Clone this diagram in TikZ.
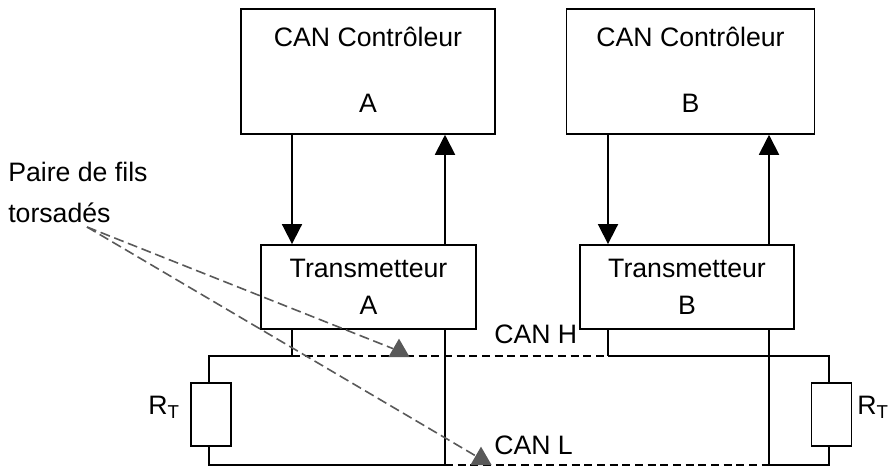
\documentclass[tikz,border=0pt]{standalone}
\usepackage{fontspec}
\setmainfont{Liberation Sans}
\usetikzlibrary{arrows.meta,shapes.geometric}

\definecolor{pointer}{HTML}{595959}
\tikzset{
    wire/.style={line width=1.4pt},
    signal/.style={wire,-{Triangle[width=15pt,length=15pt]}},
    bus/.style={wire,dash pattern=on 6pt off 3.5pt},
    hint/.style={line width=1.2pt,pointer,dash pattern=on 7.5pt off 3.5pt},
    tip/.style={regular polygon,regular polygon sides=3,fill=pointer,minimum size=18.5pt,inner sep=0pt},
    block/.style={draw,line width=1.4pt,align=center,inner sep=0pt,font=\fontsize{20}{24}\selectfont},
    resistor/.style={draw,line width=1.4pt,fill=white,minimum width=30pt,minimum height=47.5pt,inner sep=0pt},
    caption/.style={inner sep=0pt,font=\fontsize{20}{24}\selectfont}
}

\begin{document}
\begin{tikzpicture}[x=0.75pt,y=-0.75pt]
    \useasboundingbox (0,0) rectangle (888,467);

    % Controllers
    \node[block,minimum width=190pt,minimum height=93.5pt] (ctrlA) at (368,71.5) {\raisebox{2.5pt}{CAN Contrôleur}\\[25pt]\raisebox{2.5pt}{A}};
    \node[block,minimum width=186pt,minimum height=93.5pt] (ctrlB) at (690.5,71.5) {\raisebox{2.5pt}{CAN Contrôleur}\\[25pt]\raisebox{2.5pt}{B}};

    % Transceivers
    \node[block,minimum width=161pt,minimum height=63pt] (txA) at (368.5,287) {\raisebox{-2.2pt}{Transmetteur}\\[4pt]\raisebox{-2.2pt}{A}};
    \node[block,minimum width=161pt,minimum height=63pt] (txB) at (687,287) {\raisebox{-2.2pt}{Transmetteur}\\[4pt]\raisebox{-2.2pt}{B}};

    % Wire positions
    \coordinate (dnA) at (292,0);
    \coordinate (upA) at (445,0);
    \coordinate (dnB) at (608,0);
    \coordinate (upB) at (769,0);
    \coordinate (railH) at (0,356);
    \coordinate (railL) at (0,465);
    \coordinate (endL) at (209,0);
    \coordinate (endR) at (829,0);

    % Arrows
    \draw[signal] (dnA |- ctrlA.south) -- (dnA |- txA.north);
    \draw[signal] (upA |- txA.north) -- (upA |- ctrlA.south);
    \draw[signal] (dnB |- ctrlB.south) -- (dnB |- txB.north);
    \draw[signal] (upB |- txB.north) -- (upB |- ctrlB.south);

    % Terminations
    \node[resistor] (rtA) at (211,414.5) {};
    \node[resistor] (rtB) at (831.5,414.5) {};

    % Bus
    \draw[wire] (dnA |- txA.south) -- (dnA |- railH);
    \draw[wire] (upA |- txA.south) -- (upA |- railL);
    \draw[wire] (dnB |- txB.south) -- (dnB |- railH);
    \draw[wire] (upB |- txB.south) -- (upB |- railL);
    \draw[wire] (endL |- rtA.north) -- (endL |- railH) -- (dnA |- railH);
    \draw[wire] (endL |- rtA.south) -- (endL |- railL) -- (upA |- railL);
    \draw[wire] (endR |- rtB.north) -- (endR |- railH) -- (dnB |- railH);
    \draw[wire] (endR |- rtB.south) -- (endR |- railL) -- (upB |- railL);
    \draw[bus] (dnA |- railH) -- (dnB |- railH);
    \draw[bus] (upA |- railL) -- (upB |- railL);

    % Labels
    \node[caption,anchor=base west] (canH) at (494,343) {CAN H};
    \node[caption,anchor=base west] (canL) at (494,454) {CAN L};
    \node[caption,anchor=west] (labA) at (148,407) {R\textsubscript{T}};
    \node[caption,anchor=west] (labB) at (857,407) {R\textsubscript{T}};
    \node[caption,anchor=base west] (pair) at (8,181) {Paire de fils};
    \node[caption,anchor=base west] (twist) at (8,222) {torsadés};

    % Pointers
    \coordinate (fan) at (87,227);
    \node[tip] (tipH) at (399,351) {};
    \node[tip] (tipL) at (481,459) {};
    \draw[hint] (fan) -- (tipH);
    \draw[hint] (fan) -- (tipL);
\end{tikzpicture}
\end{document}
